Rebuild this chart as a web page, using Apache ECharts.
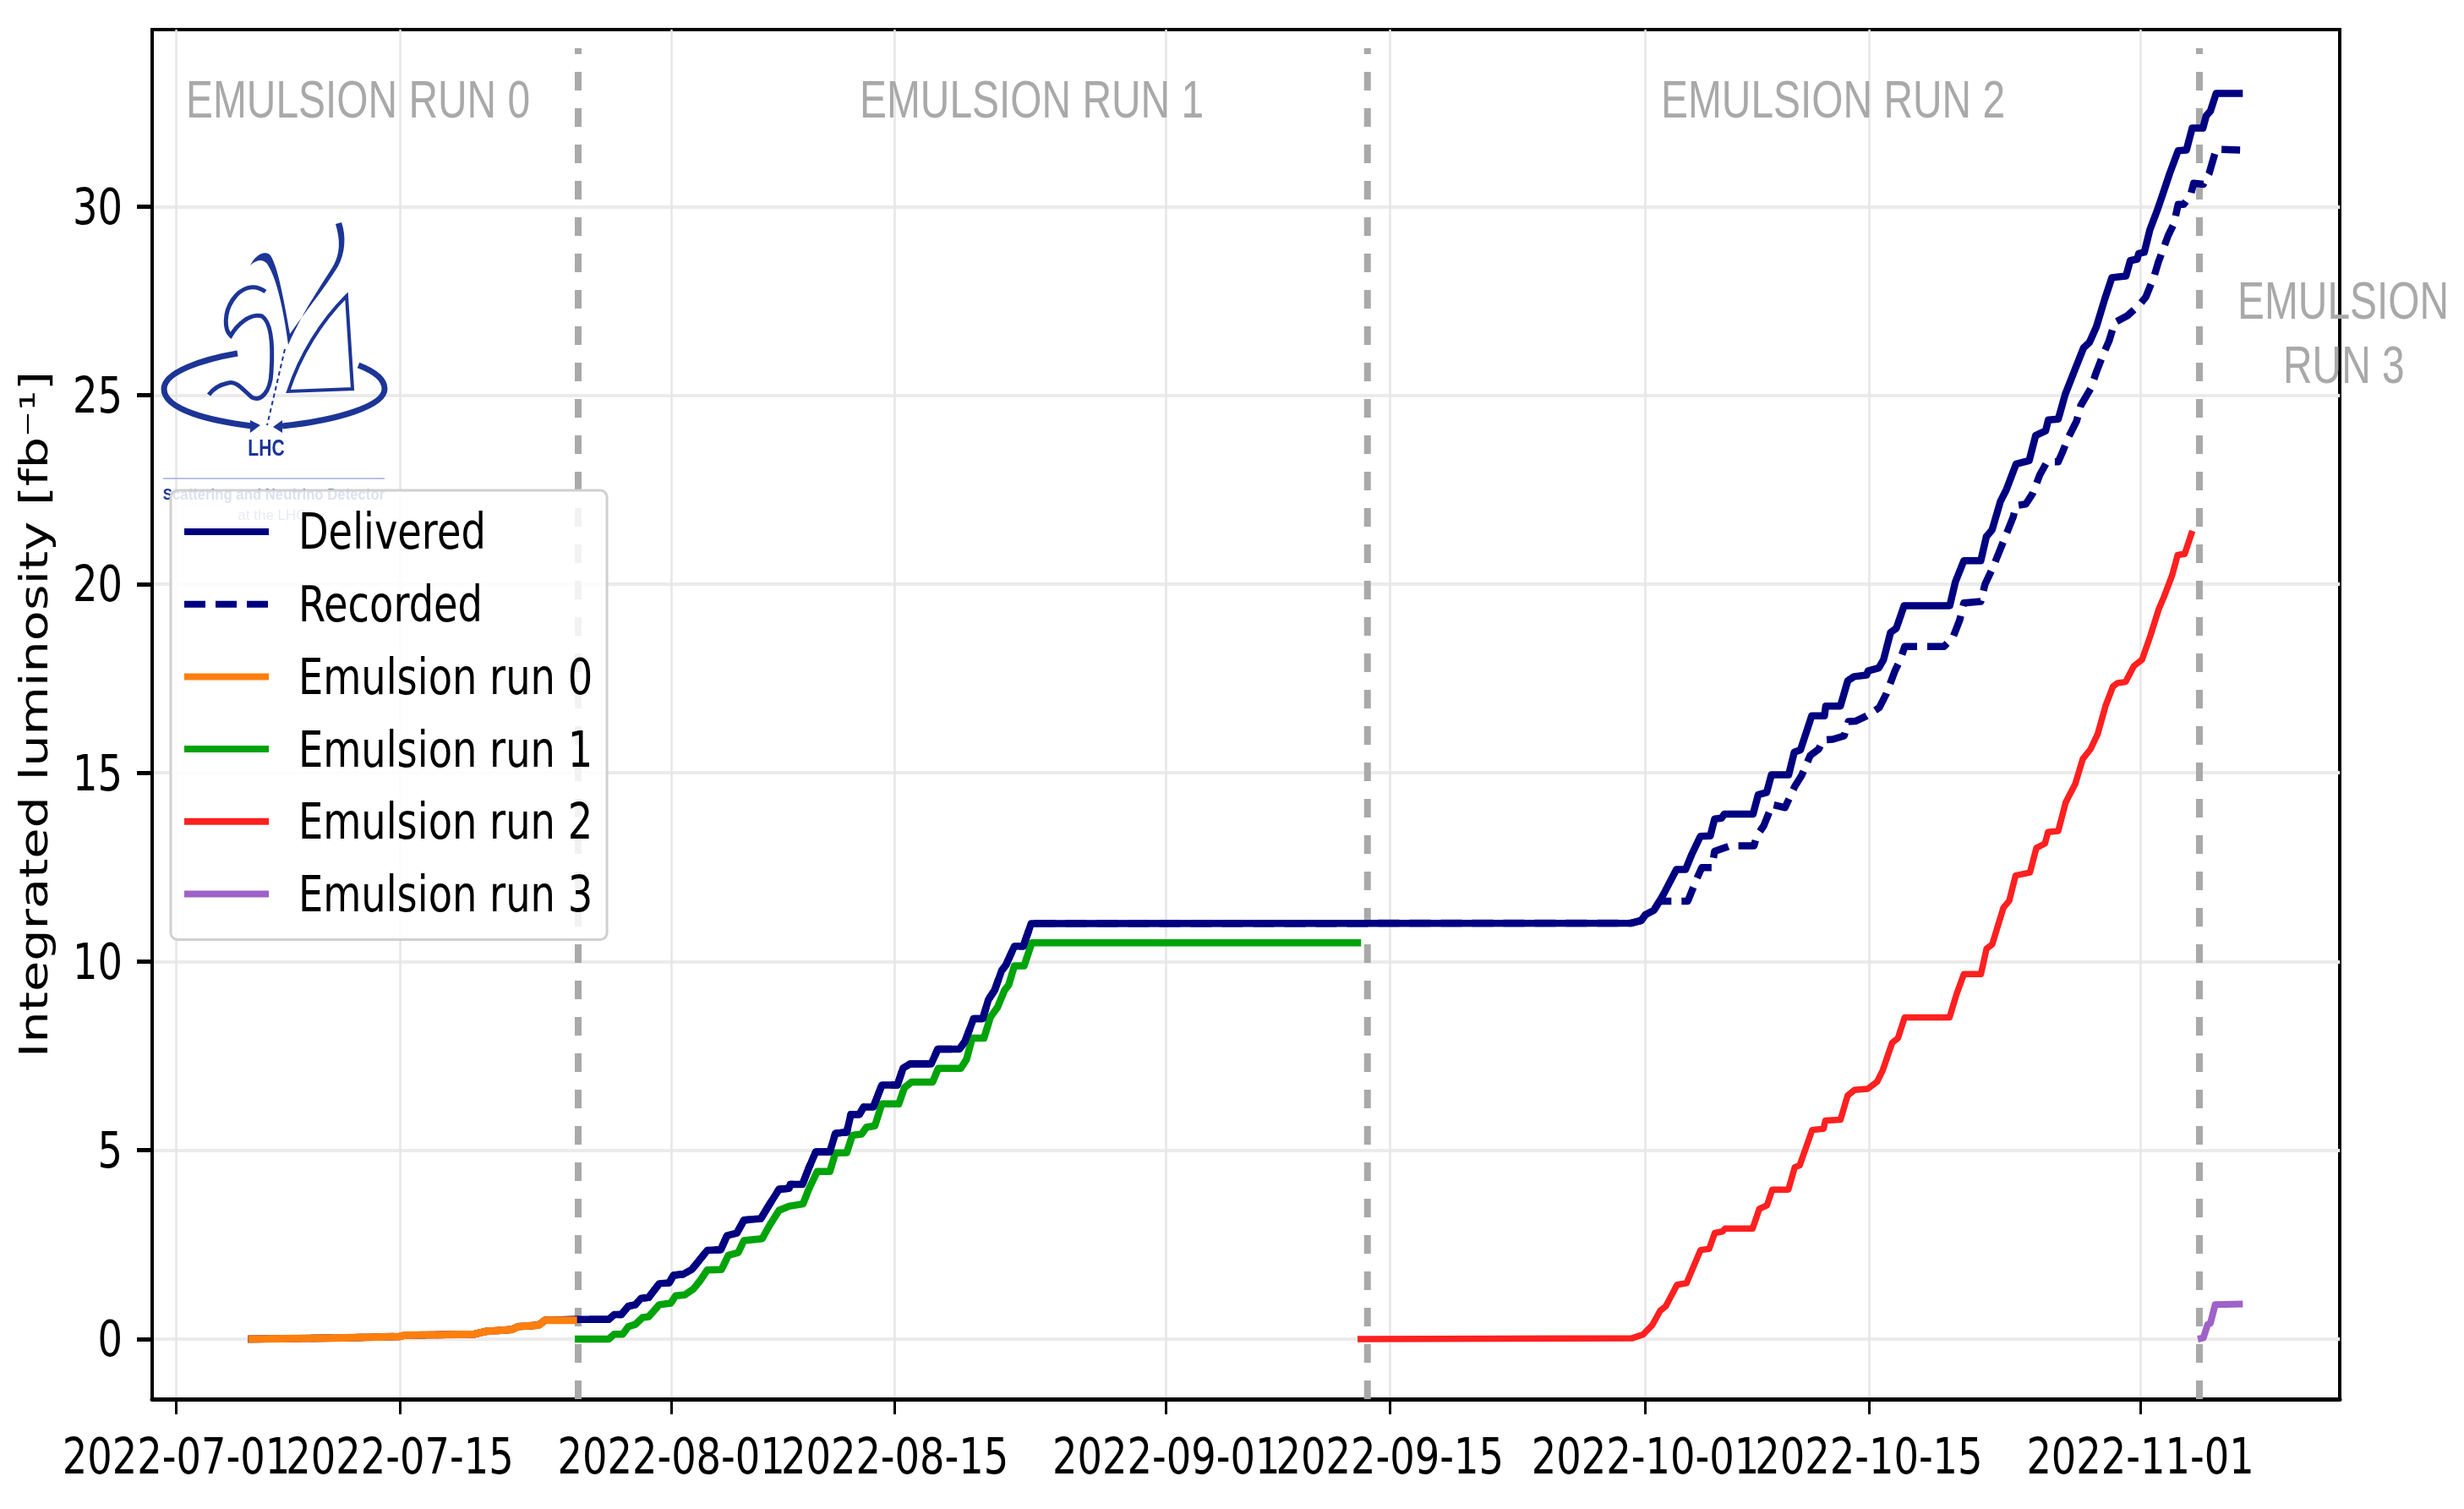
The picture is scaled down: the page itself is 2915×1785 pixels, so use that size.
<!DOCTYPE html>
<html><head><meta charset="utf-8">
<style>html,body{margin:0;padding:0;background:#fff}#c{width:2915px;height:1785px}</style>
<script src="https://cdn.jsdelivr.net/npm/echarts@6/dist/echarts.min.js"></script>
</head><body><div id="c"></div>
<script>
// Days are counted from 2022-07-01 00:00 UTC.
const epoch = Date.UTC(2022, 6, 1);
const tickDates = ['2022-07-01','2022-07-15','2022-08-01','2022-08-15','2022-09-01','2022-09-15','2022-10-01','2022-10-15','2022-11-01'];
const yTicks = [0,5,10,15,20,25,30];
const seriesNames = ['Delivered','Recorded','Emulsion run 0','Emulsion run 1','Emulsion run 2','Emulsion run 3'];
const boundaryDays = [25.17, 74.6, 126.7];

const earlyDays = [4.49,9.88,14.0,14.27,18.67,19.35,21.0,21.4,22.7,23.1,25.31,27.08,27.43,27.87,28.31,28.75,29.11,29.58,30.25,30.87,31.14,31.75,32.28,32.72,33.25,34.10,34.49,35.11,35.55,36.61,37.14,37.75,38.37,38.46,39.22,39.61,40.05,40.93,41.28,41.99,42.25,42.78,43.05,43.66,44.19,45.16,45.52,45.96,47.28,47.69,49.05,49.4,49.93,50.51,50.86,51.25,51.69,51.96,52.49,53.05,53.54,91.13,91.75,92.01,92.54,92.89];
const earlyValues = [0,0.03,0.07,0.1,0.13,0.2,0.25,0.33,0.37,0.5,0.52,0.52,0.65,0.65,0.87,0.91,1.08,1.10,1.47,1.49,1.69,1.72,1.84,2.07,2.35,2.37,2.74,2.81,3.15,3.19,3.56,3.97,3.99,4.10,4.10,4.53,4.96,4.96,5.45,5.48,5.95,5.95,6.15,6.15,6.73,6.73,7.18,7.29,7.29,7.68,7.68,7.89,8.49,8.49,8.99,9.24,9.76,9.91,10.41,10.41,11.01,11.02,11.09,11.24,11.36,11.6];

const deliveredLateDays = [93.16,93.95,94.52,94.92,95.45,96.07,96.34,96.78,96.95,98.75,99.07,99.6,99.9,100.98,101.33,101.72,102.42,103.22,103.3,104.22,104.68,105.07,105.86,105.95,106.62,106.92,107.36,107.72,108.21,111.07,111.42,111.95,113.01,113.36,113.72,114.24,114.6,115.22,116.04,116.45,117.07,117.24,117.86,118.3,118.92,119.45,119.81,120.25,120.78,121.22,122.1,122.37,122.81,122.9,123.25,123.6,124.04,124.31,124.84,125.37,125.89,126.25,126.92,127.13,127.39,127.75,129.42];
const deliveredLateValues = [11.80,12.44,12.44,12.85,13.32,13.33,13.78,13.80,13.91,13.91,14.42,14.48,14.95,14.95,15.55,15.61,16.51,16.51,16.77,16.77,17.44,17.55,17.59,17.70,17.78,18.0,18.72,18.83,19.43,19.43,20.06,20.62,20.62,21.26,21.44,22.19,22.49,23.18,23.27,23.94,24.06,24.35,24.37,25.03,25.7,26.26,26.4,26.82,27.56,28.12,28.16,28.57,28.61,28.76,28.79,29.39,29.88,30.21,30.88,31.48,31.5,32.08,32.08,32.41,32.53,33.0,33.0];

const recordedLateDays = [94.66,95.28,95.54,96.16,96.34,97.31,98.81,98.98,99.42,99.95,100.75,101.36,101.8,102.33,102.86,103.13,103.75,104.45,104.72,105.16,105.86,106.66,107.1,107.63,107.98,108.25,110.71,111.25,111.69,111.95,113.01,113.27,113.8,114.16,114.69,115.04,115.22,115.83,116.27,116.71,117.16,117.86,118.13,118.48,119.01,119.27,119.89,120.25,120.69,121.04,121.4,122.19,122.9,123.34,123.87,124.13,124.75,125.1,125.37,125.72,126.16,126.34,126.95,127.31,127.75,129.25];
const recordedLateValues = [11.6,12.25,12.49,12.49,12.92,13.07,13.07,13.33,13.6,14.16,14.08,14.64,14.94,15.46,15.63,15.87,15.89,15.98,16.36,16.37,16.51,16.73,17.1,17.7,18.01,18.35,18.35,18.57,19.05,19.5,19.54,19.99,20.47,20.85,21.41,21.78,22.08,22.12,22.41,22.9,23.24,23.24,23.5,23.87,24.32,24.73,25.18,25.62,26.1,26.44,26.93,27.11,27.38,27.6,28.16,28.53,29.24,29.54,30.06,30.06,30.32,30.62,30.59,30.88,31.52,31.5];

const run0Days = [4.49,9.88,14.0,14.27,18.67,19.35,21.0,21.4,22.7,23.1,25.1];
const run0Values = [0,0.03,0.07,0.1,0.13,0.2,0.25,0.33,0.37,0.5,0.5];

const run1Days = [24.96,27.08,27.43,27.96,28.31,28.75,29.2,29.58,30.25,30.96,31.28,31.84,32.37,32.81,33.25,34.14,34.58,35.19,35.55,36.69,37.14,37.75,38.37,39.25,39.61,40.14,40.93,41.28,41.99,42.34,42.92,43.22,43.75,44.19,45.25,45.6,46.05,47.37,47.72,49.13,49.49,49.84,50.58,50.99,51.43,51.87,52.13,52.49,53.1,53.58,74.2];
const run1Values = [0,0,0.13,0.13,0.33,0.39,0.57,0.59,0.91,0.95,1.15,1.17,1.32,1.55,1.83,1.84,2.22,2.29,2.61,2.66,3.0,3.41,3.52,3.58,3.97,4.44,4.44,4.93,4.94,5.40,5.43,5.61,5.65,6.23,6.23,6.66,6.81,6.81,7.17,7.17,7.41,7.97,7.97,8.53,8.79,9.24,9.38,9.89,9.89,10.5,10.5];

const run2Days = [73.98,91.15,91.86,92.45,92.93,93.28,93.99,94.58,94.94,95.46,96.0,96.35,96.83,97.0,98.72,99.14,99.62,99.95,100.96,101.36,101.67,102.45,103.16,103.28,104.22,104.67,105.1,105.93,106.52,106.87,107.46,107.82,108.24,111.05,111.48,111.95,113.02,113.37,113.73,114.43,114.79,115.19,116.09,116.49,117.03,117.22,117.86,118.33,118.93,119.4,119.87,120.34,120.82,121.29,121.57,122.08,122.6,123.11,123.63,124.14,124.48,124.99,125.34,125.78,126.26];
const run2Values = [0,0.02,0.12,0.38,0.75,0.87,1.44,1.48,1.84,2.36,2.39,2.81,2.85,2.93,2.93,3.45,3.54,3.96,3.96,4.55,4.6,5.54,5.57,5.79,5.81,6.45,6.6,6.63,6.82,7.12,7.85,7.97,8.52,8.52,9.12,9.67,9.67,10.34,10.46,11.43,11.61,12.28,12.36,13.01,13.13,13.43,13.46,14.22,14.71,15.37,15.62,16.04,16.77,17.29,17.38,17.41,17.83,18.0,18.63,19.32,19.66,20.23,20.77,20.8,21.41];

const run3Days = [126.6,126.95,127.22,127.39,127.69,129.42];
const run3Values = [0,0.03,0.39,0.42,0.91,0.93];

const xMinDay = -1.51, xMaxDay = 135.49, yMin = -1.59, yMax = 34.69, boundaryTop = 34.2;

const toTime = d => epoch + d * 86400000;
const pair = (days, vals) => days.map((d, i) => [toTime(d), vals[i]]);
const tickTimes = tickDates.map(s => Date.parse(s + 'T00:00:00Z'));

const NAVY = '#000080', GREY = '#a9a9a9', LOGO = '#1c3596';
const FONT = '"DejaVu Sans"';
const TEXT_SIZE = 45;          // the reference's lettering is tall and narrow
const TEXT_STRETCH_Y = 1.31;

function lineSeries(name, data, color, width, z, type) {
  return { name, type: 'line', data, z, symbol: 'none', showSymbol: false, silent: true, animation: false,
    lineStyle: { color, width, type: type || 'solid', cap: 'butt', join: 'round' }, itemStyle: { color } };
}
const boundarySeries = boundaryDays.map((d, i) => ({
  name: 'boundary' + i, type: 'line', symbol: 'none', showSymbol: false, silent: true, z: 2, animation: false,
  data: [[toTime(d), yMin], [toTime(d), boundaryTop]],
  lineStyle: { color: GREY, width: 8, type: [22, 21], cap: 'butt' }
}));

function label(text, x, y, scaleX) {
  return { type: 'text', x, y, scaleX: scaleX || 0.76, z: 20, silent: true,
    style: { x: 0, y: 0, text, fill: GREY, font: '63px "Liberation Sans"', align: 'left', verticalAlign: 'middle' } };
}
let logoShapeCount = 0;
function logoPath(d, fill, stroke, lineWidth, lineDash) {
  const shapeName = 'logoShape' + (logoShapeCount++);
  echarts.graphic.registerShape(shapeName, echarts.graphic.extendPath(d, {}));
  return { type: shapeName, z: 1, silent: true, shape: {},
    style: { fill: fill || 'none', stroke: stroke || 'none', lineWidth: lineWidth || 0, lineDash: lineDash || null } };
}
function logoText(text, cx, cy, size, weight, scaleX, opacity) {
  return { type: 'text', x: cx, y: cy, scaleX, z: 1, silent: true,
    style: { x: 0, y: 0, text, fill: LOGO, opacity: opacity || 1, font: weight + ' ' + size + 'px "Liberation Sans"', align: 'center', verticalAlign: 'middle' } };
}
const graphics = [
  label('EMULSION RUN 0', 220, 122),
  label('EMULSION RUN 1', 1017, 122),
  label('EMULSION RUN 2', 1965, 122),
  label('EMULSION', 2647, 360),
  label('RUN 3', 2701, 436),
  logoPath('M296 314 C302 302 312 296 319 301 C328 312 335 350 343 395 C360 370 385 340 400 315 C408 300 410 280 404 263 L397 265 C403 285 402 300 395 313 C382 335 360 365 341 408 C336 370 328 330 316 312 C310 305 302 308 296 314 Z', LOGO),
  logoPath('M314 345 C300 335 285 340 275 355 C265 370 265 390 273 397 C280 385 295 370 310 374 C322 382 323 410 321 440 C320 465 308 475 298 470 C288 462 280 450 270 453 C260 455 252 460 247 467', null, LOGO, 5),
  logoPath('M410 350 L417 460 L341 463 C355 420 380 380 410 350 Z', null, LOGO, 4),
  logoPath('M337 413 L316 503', null, LOGO, 2, [5, 4]),
  logoPath('M281 418 C240 425 194 440 194 460 C194 485 250 498 298 504', null, LOGO, 7),
  logoPath('M296 497 L308 503 L296 512 Z', LOGO),
  logoPath('M424 432 C445 440 455 450 455 460 C455 480 400 497 334 504', null, LOGO, 7),
  logoPath('M323 505 L334 497 L334 512 Z', LOGO),
  logoPath('M193 566 L455 566', null, '#b9c2e2', 2),
  logoText('LHC', 315, 532, 27, 'bold', 0.78),
  logoText('Scattering and Neutrino Detector', 324, 586, 18, 'bold', 0.93),
  logoText('at the LHC', 322, 610, 17, 'normal', 1, 0.7)
];

const option = {
  backgroundColor: '#fff',
  animation: false,
  grid: { left: 180, right: 147, top: 35, bottom: 130, show: true, borderWidth: 4, borderColor: '#000', backgroundColor: 'transparent', outerBoundsMode: 'none', containLabel: false },
  legend: {
    data: seriesNames, left: 202, top: 580, orient: 'vertical', selectedMode: false, z: 10,
    padding: [19, 31, 24, 12], itemWidth: 100, itemHeight: 14, itemGap: 25.7,
    backgroundColor: 'rgba(255,255,255,0.85)', borderColor: '#d0d0d0', borderWidth: 3, borderRadius: 8,
    itemStyle: { opacity: 0 },
    lineStyle: { width: 8, type: 'inherit', color: 'inherit', cap: 'butt', opacity: 1 },
    textStyle: { fontFamily: FONT, fontSize: TEXT_SIZE, color: '#000', lineHeight: 60, padding: [0, 0, 0, 26] }
  },
  xAxis: {
    type: 'value', min: toTime(xMinDay), max: toTime(xMaxDay), scale: true,
    axisLine: { show: true, onZero: false, lineStyle: { color: '#000', width: 5 } },
    axisTick: { show: true, length: 18, lineStyle: { color: '#000', width: 3 }, customValues: tickTimes },
    axisLabel: { show: true, customValues: tickTimes, hideOverlap: false, showMinLabel: true, showMaxLabel: true, margin: 43, fontFamily: FONT, fontSize: TEXT_SIZE, color: '#000',
      formatter: v => new Date(v).toISOString().slice(0, 10) },
    splitLine: { show: true, lineStyle: { color: '#e6e6e6', width: 2.5 } }
  },
  yAxis: {
    type: 'value', min: yMin, max: yMax,
    name: 'Integrated luminosity [fb⁻¹]', nameLocation: 'middle', nameGap: 113, nameRotate: 90,
    nameTextStyle: { fontFamily: FONT, fontSize: 59, color: '#000' },
    axisLine: { show: true, onZero: false, lineStyle: { color: '#000', width: 4 } },
    axisTick: { show: true, length: 18, lineStyle: { color: '#000', width: 5 }, customValues: yTicks },
    axisLabel: { show: true, customValues: yTicks, showMinLabel: true, showMaxLabel: true, margin: 35, fontFamily: FONT, fontSize: TEXT_SIZE, color: '#000', formatter: v => String(v) },
    splitLine: { show: true, lineStyle: { color: '#ebebeb', width: 4 } }
  },
  series: [
    ...boundarySeries,
    lineSeries('Recorded', pair(earlyDays.concat(recordedLateDays), earlyValues.concat(recordedLateValues)), NAVY, 8.5, 3, [25, 12]),
    lineSeries('Delivered', pair(earlyDays.concat(deliveredLateDays), earlyValues.concat(deliveredLateValues)), NAVY, 8.5, 4),
    lineSeries('Emulsion run 0', pair(run0Days, run0Values), '#ff7f0e', 9, 5),
    lineSeries('Emulsion run 1', pair(run1Days, run1Values), '#00a30a', 8.5, 3.5),
    lineSeries('Emulsion run 2', pair(run2Days, run2Values), '#ff2020', 7.5, 5),
    lineSeries('Emulsion run 3', pair(run3Days, run3Values), '#9f62c8', 8, 5)
  ],
  graphic: { elements: graphics }
};
const chart = echarts.init(document.getElementById('c'), null, { renderer: 'canvas', width: 2915, height: 1785 });
chart.setOption(option);

// Stretch the library's own labels to the reference's tall, narrow proportions.
const zr = chart.getZr();
zr.storage.traverse(el => {
  if (el.type !== 'text' || !el.style || !el.style.text) return;
  const t = String(el.style.text);
  if (t.indexOf('Integrated') === 0) { el.scaleY = 0.77; el.markRedraw(); return; }
  if (String(el.style.fontFamily || '').indexOf('DejaVu') < 0) return;
  el.scaleY = TEXT_STRETCH_Y;
  el.scaleX = 1.03;
  if (/^\d+$/.test(t)) el.y += 5;
  else if (seriesNames.indexOf(t) >= 0) el.y += 3;
  el.markRedraw();
});
zr.refreshImmediately();
</script></body></html>
